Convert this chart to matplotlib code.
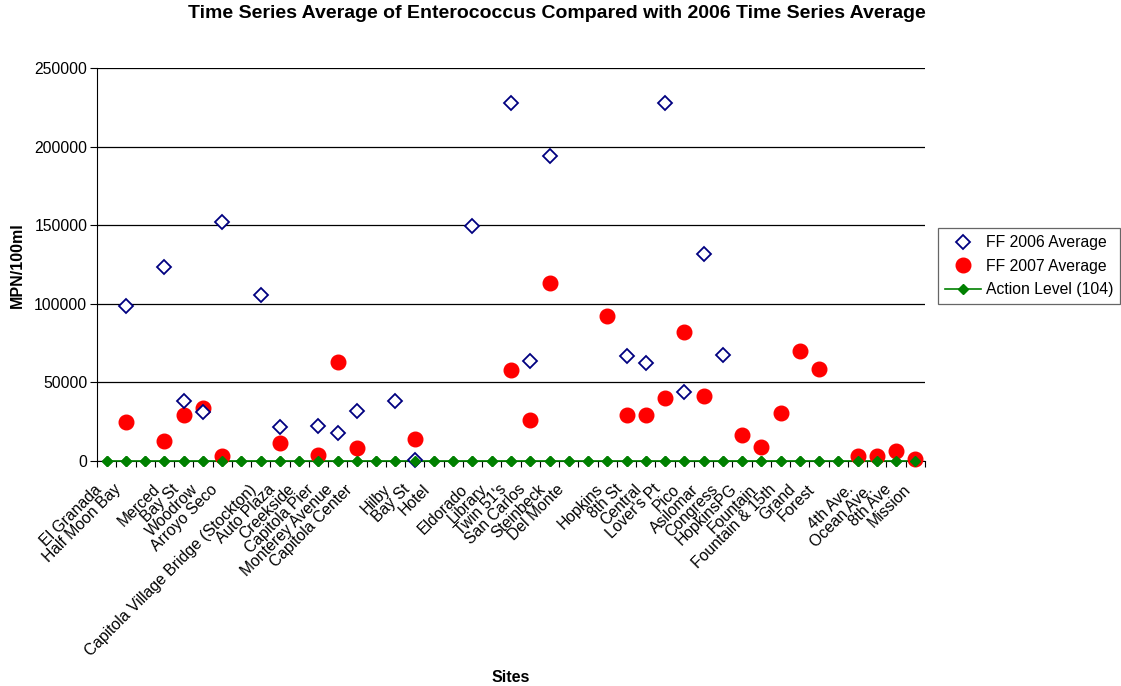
import numpy as np
import matplotlib
matplotlib.use("Agg")
import matplotlib.pyplot as plt
import matplotlib.transforms as mtransforms

plt.rcParams["font.family"] = ["Liberation Sans", "DejaVu Sans"]

# site names ("" = empty slot between groups)
sites = [
    "El Granada", "Half Moon Bay", "", "Merced", "Bay St", "Woodrow", "Arroyo Seco", "",
    "Capitola Village Bridge (Stockton)", "Auto Plaza", "Creekside", "Capitola Pier",
    "Monterey Avenue", "Capitola Center", "", "Hilby", "Bay St", "Hotel", "",
    "Eldorado", "Library", "Twin 51's", "San Carlos", "Steinbeck", "Del Monte", "",
    "Hopkins", "8th St", "Central", "Lover's Pt", "Pico", "Asilomar", "Congress",
    "HopkinsPG", "Fountain", "Fountain & 15th", "Grand", "Forest", "",
    "4th Ave.", "Ocean Ave.", "8th Ave", "Mission",
]

nan = np.nan
ff2006 = [
    nan, 98300, nan, 123700, 38300, 30900, 152300, nan,
    105900, 21400, nan, 22000, 17800, 31800, nan, 38000, 600, nan, nan,
    149500, nan, 227600, 63600, 194100, nan, nan,
    nan, 66600, 62600, 227600, 44100, 131900, 67700,
    nan, nan, nan, nan, nan, nan,
    nan, nan, nan, nan,
]
ff2007 = [
    nan, 24800, nan, 12700, 29200, 33700, 3000, nan,
    nan, 11200, nan, 3800, 63100, 8300, nan, nan, 13800, nan, nan,
    nan, nan, 57700, 26300, 113000, nan, nan,
    92000, 29500, 29500, 39900, 81900, 41100, nan,
    16500, 9100, 30300, 69700, 58700, nan,
    3400, 3400, 6600, 1500,
]
action_level = [104] * len(sites)

x = np.arange(1, len(sites) + 1)
FS = 11.3

fig = plt.figure(figsize=(11.21, 6.86), dpi=100)
ax = fig.add_axes([97 / 1121, (686 - 461) / 686, 828 / 1121, 393 / 686])

ax.plot(x, action_level, color="#008000", lw=1.2, marker="D", ms=4.8,
        mfc="#008000", mec="#008000", label="Action Level (104)", zorder=3,
        clip_on=False)
ax.plot(x, ff2007, ls="none", marker="o", ms=10.5, mfc="#ff0000", mec="#ff0000",
        label="FF 2007 Average", zorder=4, clip_on=False)
ax.plot(x, ff2006, ls="none", marker="D", ms=6.8, mfc="white", mec="#000080",
        mew=1.3, label="FF 2006 Average", zorder=5, clip_on=False)
# green markers stay on top (Bay St point at ~0)
ax.plot(x, action_level, ls="none", marker="D", ms=4.8, mfc="#008000",
        mec="#008000", zorder=6, clip_on=False)

ax.set_xlim(0.5, len(sites) + 0.5)
ax.set_ylim(0, 250000)
ax.set_yticks(np.arange(0, 250001, 50000))
ax.yaxis.grid(True, color="black", lw=0.9)
ax.set_axisbelow(True)
for s in ["top", "right"]:
    ax.spines[s].set_visible(False)
ax.tick_params(axis="y", labelsize=FS, length=5, direction="out", pad=2)

# ticks between categories, labels placed at category centres
ax.set_xticks(np.arange(0.5, len(sites) + 1, 1.0))
ax.set_xticklabels([])
ax.tick_params(axis="x", length=4, direction="out")

offset = mtransforms.ScaledTranslation(-7 / 100, -26 / 100, fig.dpi_scale_trans)
trans = ax.get_xaxis_transform() + offset
for xi, name in zip(x, sites):
    if name:
        ax.text(xi, 0, name, transform=trans, rotation=45, ha="right", va="center",
                rotation_mode="anchor", fontsize=FS)

fig.text(17 / 1121, 1 - 265 / 686, "MPN/100ml", rotation=90, ha="center",
         va="center", fontsize=11.5, fontweight="bold")
fig.text(511 / 1121, 1 - 678 / 686, "Sites", ha="center", va="center",
         fontsize=11.5, fontweight="bold")
fig.text(557 / 1121, 1 - 13 / 686,
         "Time Series Average of Enterococcus Compared with 2006 Time Series Average",
         ha="center", va="center", fontsize=14, fontweight="bold")

handles, labels = ax.get_legend_handles_labels()
order = [2, 1, 0]
leg = fig.legend([handles[i] for i in order], [labels[i] for i in order],
                 loc="upper left", bbox_to_anchor=(938 / 1121, 1 - 228 / 686),
                 fontsize=FS, frameon=True, fancybox=False, edgecolor="#404040",
                 borderpad=0.45, handlelength=2.3, handletextpad=0.3,
                 labelspacing=0.55, borderaxespad=0)
leg.get_frame().set_linewidth(0.9)

fig.savefig("out.png", dpi=100)
plt.close(fig)
